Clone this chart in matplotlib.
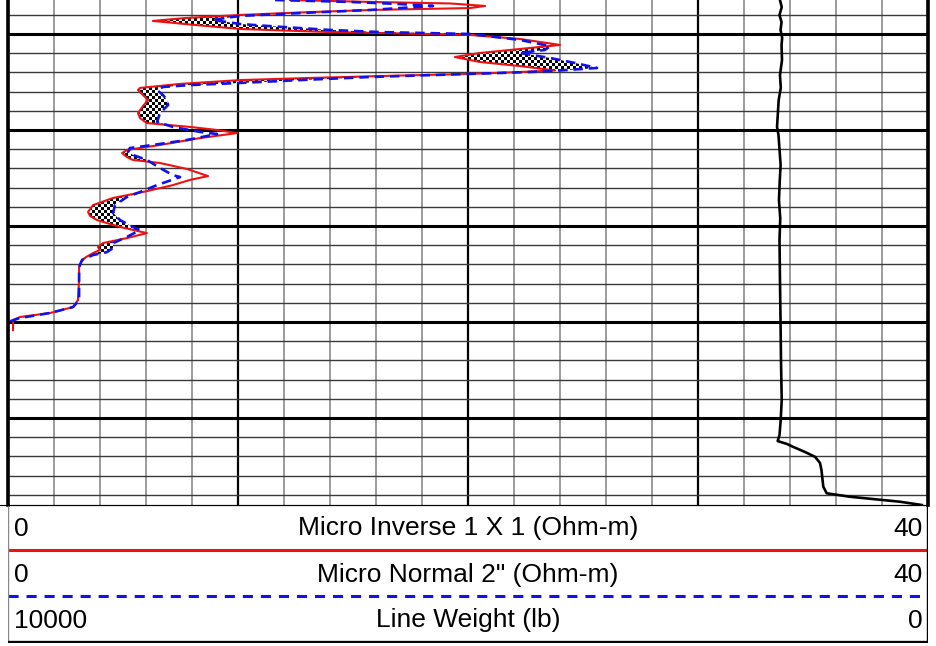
import numpy as np
import matplotlib
matplotlib.use("Agg")
import matplotlib.pyplot as plt
from matplotlib.path import Path
from matplotlib.lines import Line2D

plt.rcParams['font.family'] = ['Liberation Sans', 'DejaVu Sans']

# Micro Inverse 1 X 1 (Ohm-m), red solid
minv_depth = [2298.23, 2298.33, 2298.41, 2298.54, 2298.65, 2298.75, 2298.88, 2299.01, 2299.17, 2299.32,
              2299.53, 2299.74, 2299.90, 2299.97, 2300.05, 2300.26, 2300.57, 2300.78, 2300.99, 2301.20,
              2301.46, 2301.67, 2301.90, 2301.98, 2302.08, 2302.19, 2302.29, 2302.40, 2302.60, 2302.81,
              2302.92, 2303.18, 2303.44, 2303.75, 2304.12, 2304.38, 2304.64, 2304.84, 2305.00, 2305.16,
              2305.42, 2305.78, 2306.04, 2306.20, 2306.41, 2306.56, 2306.72, 2307.03, 2307.40, 2307.60,
              2307.87, 2308.23, 2308.54, 2308.91, 2309.27, 2309.48, 2309.69, 2310.05, 2310.37, 2310.63,
              2310.89, 2311.09, 2311.25, 2311.41, 2311.62, 2311.77, 2312.14, 2312.81, 2313.86, 2314.22,
              2314.53, 2314.74, 2314.90, 2315.42]
minv = [12.26, 15.74, 19.22, 20.74, 20.09, 15.74, 12.70, 10.09, 7.70, 6.30,
        8.13, 10.09, 14.00, 17.04, 20.09, 22.26, 24.00, 22.26, 20.52, 19.43,
        20.52, 22.26, 23.78, 22.26, 20.09, 16.17, 13.13, 10.09, 7.48, 5.74,
        5.65, 5.87, 6.09, 5.87, 5.65, 5.74, 6.04, 7.91, 9.09, 9.96,
        8.35, 6.61, 5.17, 4.96, 5.17, 5.43, 6.61, 7.78, 8.70, 7.91,
        7.17, 5.87, 4.57, 3.70, 3.48, 3.57, 3.87, 4.87, 6.04, 5.17,
        4.13, 3.91, 4.00, 3.70, 3.39, 3.22, 3.09, 3.09, 3.04, 2.83,
        1.83, 0.52, 0.22, 0.22]

# Micro Normal 2" (Ohm-m), blue dashed
mnor_depth = [2298.23, 2298.33, 2298.44, 2298.54, 2298.65, 2298.75, 2298.91, 2299.06, 2299.17, 2299.27,
              2299.48, 2299.64, 2299.79, 2299.90, 2300.00, 2300.31, 2300.63, 2300.83, 2300.99, 2301.25,
              2301.51, 2301.77, 2301.90, 2301.98, 2302.08, 2302.24, 2302.40, 2302.55, 2302.66, 2302.76,
              2302.92, 2303.18, 2303.44, 2303.70, 2304.12, 2304.58, 2304.84, 2305.10, 2305.21, 2305.52,
              2305.78, 2305.94, 2306.15, 2306.30, 2306.56, 2306.98, 2307.35, 2307.45, 2307.87, 2308.23,
              2308.49, 2308.91, 2309.32, 2309.69, 2310.05, 2310.21, 2310.57, 2310.89, 2311.15, 2311.36,
              2311.51, 2311.77, 2312.14, 2312.81, 2313.86, 2314.22, 2314.53, 2314.79, 2315.00]
mnor = [11.61, 14.87, 17.04, 18.48, 17.04, 15.74, 12.70, 10.09, 9.43, 8.91,
        10.09, 12.00, 14.00, 16.17, 20.09, 22.26, 23.57, 23.35, 22.26, 23.57,
        24.65, 25.61, 24.00, 22.70, 20.09, 15.74, 12.70, 10.09, 7.91, 6.74,
        6.48, 6.74, 6.91, 6.96, 6.61, 6.48, 7.17, 8.35, 9.09, 7.78,
        6.30, 5.30, 5.22, 5.43, 6.04, 6.61, 7.17, 7.48, 6.48, 5.74,
        5.17, 4.65, 4.57, 4.87, 5.43, 5.74, 5.17, 4.57, 4.57, 4.30,
        3.70, 3.22, 3.09, 3.09, 3.09, 2.83, 1.83, 0.52, 0.00]

# Line Weight (lb), black, scale 10000 -> 0
lw_depth = [2298.23, 2298.60, 2299.01, 2299.38, 2299.79, 2300.20, 2300.57, 2301.36, 2302.14, 2302.80,
            2303.44, 2304.84, 2305.26, 2306.82, 2307.70, 2308.65, 2309.60, 2310.73, 2312.81, 2314.90,
            2316.98, 2319.06, 2320.10, 2320.89, 2321.20, 2321.35, 2321.50, 2321.77, 2322.02, 2322.34,
            2322.71, 2323.58, 2323.92, 2324.10, 2324.36, 2324.53]
line_weight = [1609, 1590, 1614, 1592, 1603, 1585, 1592, 1587, 1609, 1600,
               1623, 1641, 1625, 1602, 1612, 1620, 1606, 1614, 1609, 1603,
               1598, 1590, 1601, 1614, 1634, 1533, 1467, 1337, 1228, 1174,
               1158, 1138, 1101, 848, 304, 68]

top_depth, bot_depth = 2298.23, 2324.53

fig = plt.figure(figsize=(9.37, 6.46), dpi=100)
W, H = 937, 646
ax = fig.add_axes([8 / W, 141 / H, 920 / W, 505 / H])
ax.set_xlim(0, 40)
ax.set_ylim(bot_depth, top_depth)

# grid
ax.set_xticks(np.arange(0, 41, 10))
ax.set_xticks(np.arange(0, 41, 2), minor=True)
ax.set_yticks(np.arange(2300, 2325, 5))
ax.set_yticks(np.arange(2299, 2325, 1), minor=True)
ax.grid(which='minor', axis='x', color='#808080', lw=1.1)
ax.grid(which='minor', axis='y', color='#3a3a3a', lw=1.0)
ax.grid(which='major', axis='x', color='black', lw=1.6)
ax.grid(which='major', axis='y', color='black', lw=2.2)
ax.set_axisbelow(True)
ax.tick_params(which='both', length=0, labelbottom=False, labelleft=False)
ax.spines['top'].set_visible(False)
ax.spines['left'].set_linewidth(2.6)
ax.spines['right'].set_linewidth(2.6)
ax.spines['bottom'].set_linewidth(0.8)

# checkered fill where MINV < MNOR
dd = np.linspace(top_depth, bot_depth, 3000)
r = np.interp(dd, minv_depth, minv)
b = np.interp(dd, mnor_depth, mnor)
poly = ax.fill_betweenx(dd, r, b, where=r < b, interpolate=True,
                        facecolor='none', edgecolor='none')
clip = Path.make_compound_path(*poly.get_paths())
nr, nc = 168, 306
checker = np.add.outer(np.arange(nr), np.arange(nc)) % 2
im = ax.imshow(checker, cmap='gray', extent=(0, 40, bot_depth, top_depth),
               interpolation='nearest', aspect='auto', zorder=2)
im.set_clip_path(clip, transform=ax.transData)
ax.set_xlim(0, 40)
ax.set_ylim(bot_depth, top_depth)

ax.plot(minv, minv_depth, color='#ee1111', lw=1.5, zorder=3)
ax.plot(mnor, mnor_depth, color='#1111ee', lw=1.9, dashes=(3.6, 2.2), zorder=4)

ax2 = ax.twiny()
ax2.set_xlim(10000, 0)
ax2.plot(line_weight, lw_depth, color='black', lw=1.9, zorder=5)
ax2.tick_params(which='both', length=0, labeltop=False)
for s in ax2.spines.values():
    s.set_visible(False)

# header
hx = fig.add_axes([8 / W, 3 / H, 920 / W, 138 / H])
hx.set_xlim(0, 920)
hx.set_ylim(138, 0)
hx.axis('off')
fs = 19
rows = [(23.5, '0', 'Micro Inverse 1 X 1 (Ohm-m)', '40'),
        (70, '0', 'Micro Normal 2" (Ohm-m)', '40'),
        (115.5, '10000', 'Line Weight (lb)', '0')]
for y, lft, mid, rgt in rows:
    hx.text(6, y, lft, ha='left', va='center', fontsize=fs)
    hx.text(460, y, mid, ha='center', va='center', fontsize=fs)
    hx.text(915, y, rgt, ha='right', va='center', fontsize=fs)
hx.plot([0, 920], [44.5, 44.5], color='#ee1111', lw=2.2, solid_capstyle='butt')
hx.plot([0, 920], [91, 91], color='#1111ee', lw=2.2, dashes=(3.3, 2.6))
hx.plot([0.5, 0.5], [0, 137], color='#888888', lw=1.0)
hx.plot([919.5, 919.5], [0, 137], color='black', lw=1.0)
hx.plot([0, 920], [137, 137], color='black', lw=2.4)

fig.add_artist(Line2D([0, 928 / W], [1 - 505 / H, 1 - 505 / H], color='black', lw=0.8))

fig.savefig('out.png', dpi=100)
